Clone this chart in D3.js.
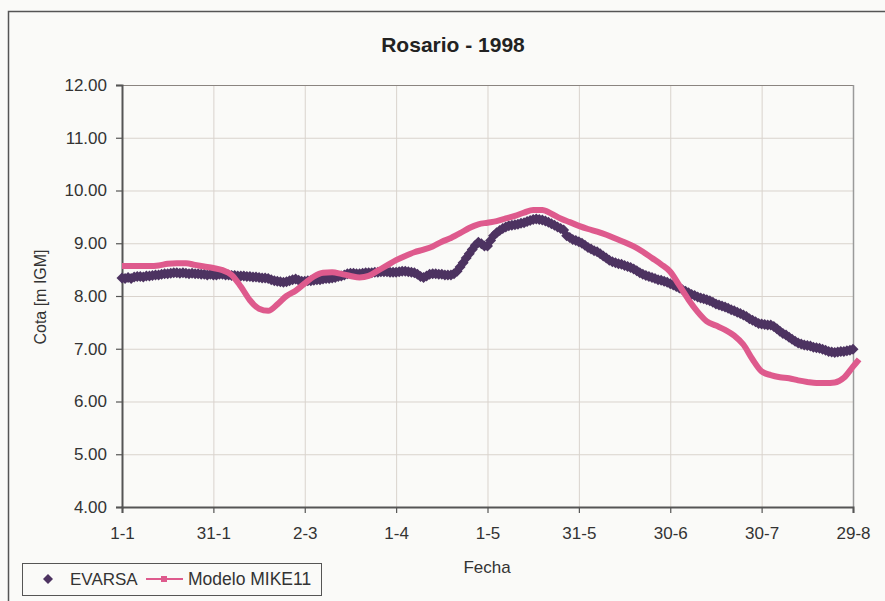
<!DOCTYPE html>
<html lang="en">
<head>
  <meta charset="UTF-8">
  <title>Rosario - 1998</title>
  <script src="https://d3js.org/d3.v7.min.js"></script>
  <style>
    body {
      margin: 0;
      background: #fafaf8;
      font-family: "Liberation Sans", Arial, sans-serif;
    }

    svg {
      display: block;
    }

    .axis text {
      font-size: 17px;
      fill: #333;
    }

    .grid line {
      stroke: #d9d3cd;
      stroke-width: 1;
    }
  </style>
</head>
<body>
  <svg width="885" height="601"></svg>

  <script>
    // EVARSA: daily gauge readings, day 0 = 1-1-1998
    const evarsa = [
      8.34, 8.33, 8.35, 8.33, 8.36, 8.37, 8.37, 8.36, 8.38, 8.38,
      8.39, 8.40, 8.40, 8.41, 8.42, 8.42, 8.43, 8.44, 8.44, 8.43,
      8.44, 8.43, 8.42, 8.43, 8.42, 8.42, 8.41, 8.41, 8.40, 8.41,
      8.40, 8.40, 8.41, 8.41, 8.40, 8.40, 8.39, 8.39, 8.38, 8.38,
      8.38, 8.37, 8.37, 8.36, 8.36, 8.35, 8.34, 8.34, 8.33, 8.31,
      8.29, 8.28, 8.27, 8.26, 8.27, 8.29, 8.31, 8.32, 8.30, 8.28,
      8.28, 8.29, 8.29, 8.30, 8.31, 8.31, 8.32, 8.33, 8.33, 8.34,
      8.35, 8.37, 8.38, 8.40, 8.42, 8.43, 8.43, 8.42, 8.42, 8.43,
      8.44, 8.44, 8.44, 8.45, 8.45, 8.46, 8.46, 8.46, 8.45, 8.45,
      8.45, 8.46, 8.47, 8.47, 8.46, 8.45, 8.44, 8.41, 8.37, 8.35,
      8.38, 8.41, 8.42, 8.42, 8.41, 8.41, 8.40, 8.40, 8.40, 8.42,
      8.47, 8.55, 8.63, 8.72, 8.80, 8.88, 8.96, 9.02, 8.99, 8.95,
      8.95, 9.05, 9.14, 9.20, 9.24, 9.28, 9.31, 9.33, 9.34, 9.35,
      9.36, 9.38, 9.39, 9.41, 9.43, 9.45, 9.46, 9.45, 9.44, 9.42,
      9.40, 9.37, 9.34, 9.31, 9.28, 9.25, 9.14, 9.11, 9.07, 9.05,
      9.03, 9.00, 8.96, 8.92, 8.89, 8.86, 8.84, 8.80, 8.76, 8.72,
      8.68, 8.65, 8.63, 8.61, 8.60, 8.58, 8.56, 8.54, 8.51, 8.48,
      8.44, 8.41, 8.39, 8.37, 8.35, 8.33, 8.31, 8.30, 8.28, 8.26,
      8.23, 8.21, 8.18, 8.15, 8.12, 8.09, 8.06, 8.03, 8.01, 7.98,
      7.96, 7.95, 7.93, 7.91, 7.88, 7.85, 7.83, 7.81, 7.79, 7.77,
      7.74, 7.72, 7.69, 7.67, 7.64, 7.61, 7.57, 7.54, 7.51, 7.48,
      7.47, 7.46, 7.45, 7.45, 7.42, 7.38, 7.33, 7.29, 7.26, 7.22,
      7.18, 7.14, 7.11, 7.09, 7.07, 7.06, 7.05, 7.03, 7.02, 7.01,
      6.99, 6.97, 6.95, 6.94, 6.93, 6.94, 6.95, 6.95, 6.96, 6.97,
      6.99
    ];

    // MIKE11 model, read every 3 days (last point just past 29-8)
    const mikeDays = d3.range(0, 241, 3).concat([242]);
    const mike11 = [
      8.57, 8.57, 8.57, 8.57, 8.58, 8.61, 8.62, 8.62, 8.59, 8.56,
      8.53, 8.49, 8.40, 8.18, 7.92, 7.76, 7.72, 7.84, 8.00, 8.10,
      8.24, 8.37, 8.44, 8.45, 8.42, 8.38, 8.35, 8.38, 8.48, 8.58,
      8.68, 8.76, 8.83, 8.88, 8.94, 9.03, 9.10, 9.19, 9.29, 9.36,
      9.39, 9.42, 9.47, 9.52, 9.58, 9.63, 9.63, 9.56, 9.47, 9.40,
      9.33, 9.27, 9.22, 9.16, 9.09, 9.02, 8.94, 8.84, 8.72, 8.60,
      8.46, 8.20, 7.93, 7.70, 7.52, 7.44, 7.36, 7.25, 7.08, 6.80,
      6.57, 6.50, 6.46, 6.44, 6.40, 6.37, 6.35, 6.35, 6.36, 6.45,
      6.66, 6.80
    ];

    const xTickDays = [0, 30, 60, 90, 120, 150, 180, 210, 240];
    const xTickLabels = ["1-1", "31-1", "2-3", "1-4", "1-5", "31-5", "30-6", "30-7", "29-8"];
    const yTicks = [4, 5, 6, 7, 8, 9, 10, 11, 12];

    const purple = "#4d3361";
    const pink = "#de5a8d";

    const svg = d3.select("svg");
    const plotLeft = 122, plotRight = 853, plotTop = 85, plotBottom = 507;

    const x = d3.scaleLinear().domain([0, 240]).range([plotLeft, plotRight]);
    const y = d3.scaleLinear().domain([4, 12]).range([plotBottom, plotTop]);

    // outer chart border (right and bottom run off the picture)
    svg.append("rect")
      .attr("x", 8.5).attr("y", 11.5)
      .attr("width", 900).attr("height", 620)
      .attr("fill", "#fafaf8")
      .attr("stroke", "#555").attr("stroke-width", 1.5);

    // grid
    svg.append("g").attr("class", "grid")
      .selectAll("line").data(yTicks).enter().append("line")
      .attr("x1", plotLeft).attr("x2", plotRight)
      .attr("y1", d => y(d) + 0.5).attr("y2", d => y(d) + 0.5);

    svg.append("g").attr("class", "grid")
      .selectAll("line").data(xTickDays.slice(1, -1)).enter().append("line")
      .attr("x1", d => x(d) + 0.5).attr("x2", d => x(d) + 0.5)
      .attr("y1", plotTop).attr("y2", plotBottom);

    // plot area frame top/right
    svg.append("line")
      .attr("x1", plotLeft).attr("x2", plotRight).attr("y1", plotTop + 0.5).attr("y2", plotTop + 0.5)
      .attr("stroke", "#8a8480").attr("stroke-width", 1.2);
    svg.append("line")
      .attr("x1", plotRight + 0.5).attr("x2", plotRight + 0.5).attr("y1", plotTop).attr("y2", plotBottom)
      .attr("stroke", "#9a9a9a").attr("stroke-width", 1.5);

    // axes
    svg.append("g").attr("class", "axis")
      .attr("transform", `translate(${plotLeft},0)`)
      .call(d3.axisLeft(y).tickValues(yTicks).tickFormat(d3.format(".2f")).tickSize(6).tickPadding(9));

    svg.append("g").attr("class", "axis")
      .attr("transform", `translate(0,${plotBottom})`)
      .call(d3.axisBottom(x).tickValues(xTickDays)
        .tickFormat((d, i) => xTickLabels[i]).tickSize(6).tickPadding(14));

    svg.selectAll(".axis .domain").attr("stroke", "#555").attr("stroke-width", 2);
    svg.selectAll(".axis .tick line").attr("stroke", "#555").attr("stroke-width", 1.2);

    // EVARSA markers
    const diamond = r => `M0,${-r}L${r},0L0,${r}L${-r},0Z`;

    svg.append("g")
      .selectAll("path").data(evarsa).enter().append("path")
      .attr("d", diamond(5.5))
      .attr("transform", (d, i) => `translate(${x(i)},${y(d)})`)
      .attr("fill", purple);

    // MIKE11 line (dense square markers show as a thick band)
    const line = d3.line()
      .x((d, i) => x(mikeDays[i]))
      .y(d => y(d))
      .curve(d3.curveMonotoneX);

    svg.append("path")
      .datum(mike11)
      .attr("d", line)
      .attr("fill", "none")
      .attr("stroke", pink)
      .attr("stroke-width", 6)
      .attr("stroke-linejoin", "round");

    // titles
    svg.append("text")
      .attr("x", 453).attr("y", 52)
      .attr("text-anchor", "middle")
      .style("font-size", "21px").style("font-weight", "bold").style("fill", "#222")
      .text("Rosario - 1998");

    svg.append("text")
      .attr("transform", "translate(46,297) rotate(-90)")
      .attr("text-anchor", "middle")
      .style("font-size", "16px").style("fill", "#333")
      .text("Cota [m IGM]");

    svg.append("text")
      .attr("x", 487).attr("y", 573)
      .attr("text-anchor", "middle")
      .style("font-size", "17px").style("fill", "#333")
      .text("Fecha");

    // legend
    const legend = svg.append("g");
    legend.append("rect")
      .attr("x", 22.5).attr("y", 563.5).attr("width", 299).attr("height", 32)
      .attr("fill", "#fafaf8").attr("stroke", "#555").attr("stroke-width", 1);
    legend.append("path")
      .attr("d", diamond(5))
      .attr("transform", "translate(48,579)")
      .attr("fill", purple);
    legend.append("text")
      .attr("x", 70).attr("y", 585)
      .style("font-size", "17px").style("fill", "#333")
      .text("EVARSA");
    legend.append("line")
      .attr("x1", 146).attr("x2", 183).attr("y1", 579).attr("y2", 579)
      .attr("stroke", pink).attr("stroke-width", 2);
    legend.append("rect")
      .attr("x", 161).attr("y", 576).attr("width", 6).attr("height", 6)
      .attr("fill", pink);
    legend.append("text")
      .attr("x", 188).attr("y", 585)
      .style("font-size", "17.5px").style("fill", "#333")
      .text("Modelo MIKE11");
  </script>
</body>
</html>
